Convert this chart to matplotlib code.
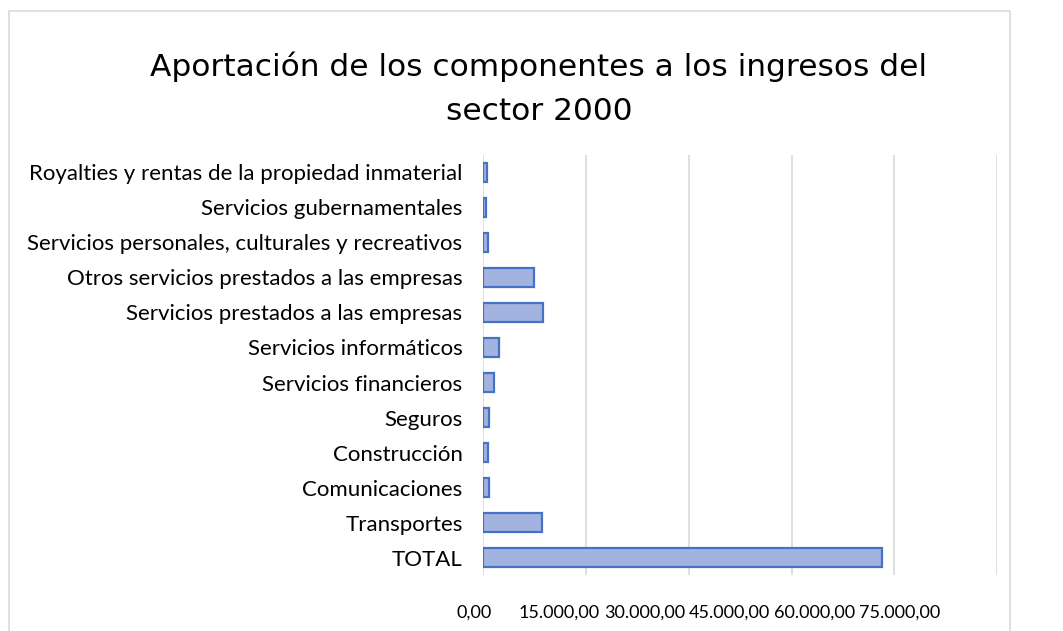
import matplotlib.pyplot as plt
from matplotlib.patches import Rectangle
from matplotlib.ticker import FuncFormatter
from matplotlib.transforms import ScaledTranslation

# datos
categorias = ['TOTAL', 'Transportes', 'Comunicaciones', 'Construcción', 'Seguros',
              'Servicios financieros', 'Servicios informáticos',
              'Servicios prestados a las empresas',
              'Otros servicios prestados a las empresas',
              'Servicios personales, culturales y recreativos',
              'Servicios gubernamentales',
              'Royalties y rentas de la propiedad inmaterial']
valores = [58190, 8580, 800, 700, 800, 1530, 2260, 8730, 7410, 660, 410, 510]
ticks_x = [0, 15000, 30000, 45000, 60000, 75000]


def fmt_es(v, pos=None):
    s = f'{v:,.2f}'
    return s.replace(',', 'X').replace('.', ',').replace('X', '.')


fig = plt.figure(figsize=(10.63, 6.31), dpi=100)
ax = fig.add_axes([0.4548, 0.0887, 0.4832, 0.6657])

ax.barh(range(len(categorias)), valores, height=0.52, color='#a3b3e0',
        edgecolor='#4472c4', linewidth=1.6, zorder=3)

ax.set_xlim(0, 75000)
ax.set_ylim(-0.5, len(categorias) - 0.5)
ax.set_xticks(ticks_x)
ax.xaxis.set_major_formatter(FuncFormatter(fmt_es))
ax.set_yticks(range(len(categorias)))
ax.set_yticklabels(categorias)
ax.grid(axis='x', color='#d9d9d9', linewidth=1.2, zorder=0)
for s in ax.spines.values():
    s.set_visible(False)
ax.tick_params(axis='both', length=0, colors='#000000')
ax.tick_params(axis='y', pad=15, labelsize=16)
ax.tick_params(axis='x', pad=21, labelsize=13)
for lab in ax.get_xticklabels() + ax.get_yticklabels():
    lab.set_family(['Lato', 'DejaVu Sans'])

# las etiquetas del eje x quedan apretadas hacia la izquierda, como en el original
for i, lab in enumerate(ax.get_xticklabels()):
    dx = -(9.5 + 17.5 * i) / 100
    lab.set_transform(lab.get_transform() + ScaledTranslation(dx, 0, fig.dpi_scale_trans))

fig.text(0.507, 0.860, 'Aportación de los componentes a los ingresos del\nsector 2000',
         ha='center', va='center', fontsize=22.5, linespacing=1.65,
         family='DejaVu Sans', color='#000000')

fig.patches.append(Rectangle((0.008, -0.02), 0.942, 1.0026, transform=fig.transFigure,
                             fill=False, edgecolor='#d9d9d9', linewidth=1.2))

fig.savefig('out.png', dpi=100)
